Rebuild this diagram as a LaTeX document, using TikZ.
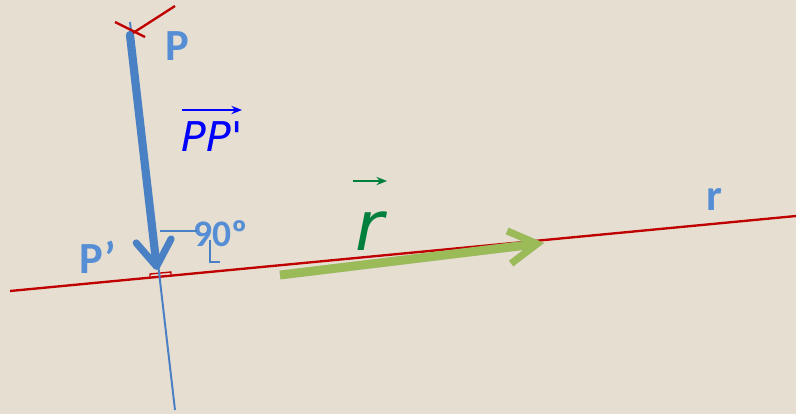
\documentclass[tikz,border=0pt]{standalone}
\usepackage{fontspec}
\setmainfont{Carlito}
\newfontfamily\vecfont{DejaVu Sans}
\usetikzlibrary{arrows.meta,positioning}
\definecolor{bgbeige}{RGB}{230,222,208}
\definecolor{lineRed}{RGB}{192,0,0}
\definecolor{labBlue}{RGB}{85,142,213}
\definecolor{arrBlue}{RGB}{74,128,196}
\definecolor{arrGreen}{RGB}{155,187,89}
\definecolor{labGreen}{RGB}{0,128,60}
\begin{document}
\begin{tikzpicture}[x=0.03cm, y=-0.03cm, every node/.style={inner sep=0pt},
  lab/.style={text=labBlue,font=\fontsize{38}{40}\selectfont\bfseries},
  veclab/.style={font=\vecfont\itshape},
  redline/.style={draw=lineRed,line width=2pt},
  thick arr/.style={draw=arrBlue,line width=7pt,line cap=round,-{Straight Barb[length=22pt,width=30pt,line width=6pt,round]}},
  green arr/.style={draw=arrGreen,line width=7.5pt,-{Straight Barb[length=24pt,width=28pt,line width=6pt]}},
  small arr/.style={line width=1.6pt,-{Stealth[length=9pt,width=7pt]}}]
\fill[bgbeige] (0,0) rectangle (796,414);
\useasboundingbox (0,0) rectangle (796,414);
\coordinate (rL) at (10,291); \coordinate (rR) at (796,216);
\coordinate (nTop) at (130,22); \coordinate (nBot) at (175,410);
\coordinate (pp) at (130,35); \coordinate (foot) at (157,270);
\coordinate (gS) at (280,275); \coordinate (gE) at (544,243);
\coordinate (x1a) at (115,22); \coordinate (x1b) at (145,37);
\coordinate (x2a) at (175,6); \coordinate (x2b) at (133,33);
\coordinate (ang1) at (160,231); \coordinate (ang2) at (197,231);
\coordinate (ang3) at (210,240); \coordinate (ang4) at (210,262); \coordinate (ang5) at (220,262);
\node[lab] (P) at (177,46) {P};
\node[lab] (Pp) at (98,257) {P’};
\node[lab] (rlab) at (714,199) {r};
\node[text=labBlue,font=\fontsize{32}{34}\selectfont\bfseries] (deg) at (221,234) {90º};
\node[veclab,text=blue,font=\vecfont\itshape\fontsize{35}{36}\selectfont] (PPv) at (212,137) {PP'};
\node[veclab,text=labGreen,font=\vecfont\itshape\fontsize{59}{60}\selectfont] (rv) at (370,231) {r};
\coordinate (va) at (182,110); \coordinate (vb) at (242,110);
\coordinate (ga) at (353,181); \coordinate (gb) at (387,181);
\draw[redline] (rL) -- (rR);
\draw[redline,line width=1.2pt] (150,277.6) -- (150,274) -- (171,272) -- (171,275.6);
\draw[draw=arrBlue,line width=1.7pt] (nTop) -- (nBot);
\draw[thick arr] (pp) -- (foot);
\draw[redline] (x1a) -- (x1b); \draw[redline] (x2a) -- (x2b);
\draw[draw=arrBlue,line width=1.6pt] (ang1) -- (ang2); \draw[draw=arrBlue,line width=1.6pt] (ang3) -- (ang4) -- (ang5);
\draw[green arr,draw=black!35,opacity=0.5,shift={(2,4)}] (gS) -- (gE);
\draw[green arr] (gS) -- (gE);
\draw[small arr,blue] (va) -- (vb);
\draw[small arr,labGreen] (ga) -- (gb);
\end{tikzpicture}
\end{document}
